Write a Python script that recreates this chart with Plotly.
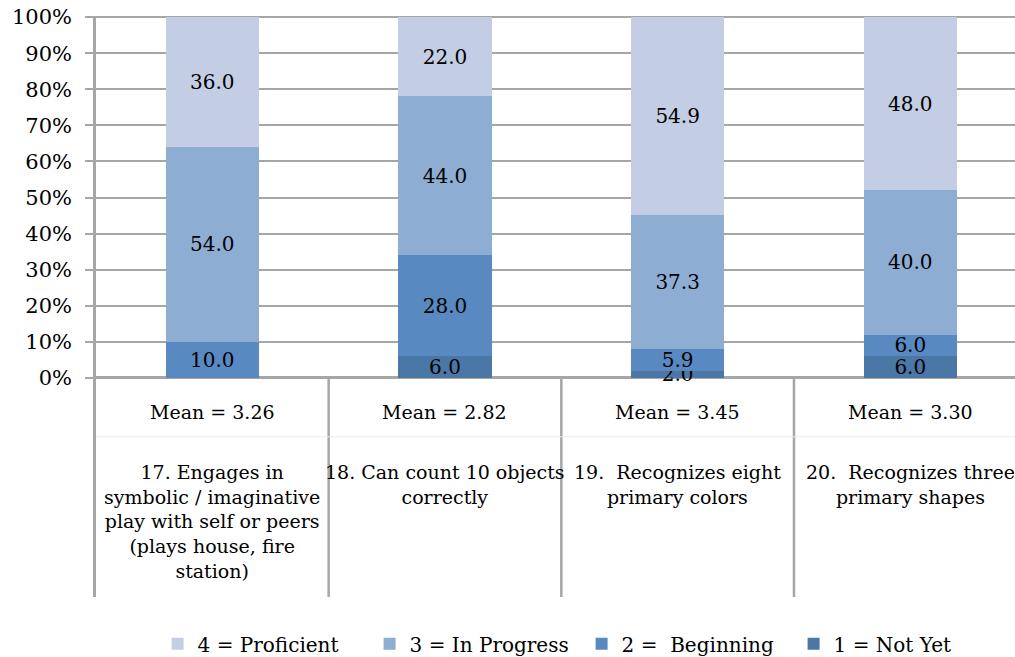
import plotly.graph_objects as go

# Survey items (x categories) and their mean scores
items = [
    "17. Engages in<br>symbolic / imaginative<br>play with self or peers<br>(plays house, fire<br>station)",
    "18. Can count 10 objects<br>correctly",
    "19. \u00a0Recognizes eight<br>primary colors",
    "20. \u00a0Recognizes three<br>primary shapes",
]
means = ["Mean = 3.26", "Mean = 2.82", "Mean = 3.45", "Mean = 3.30"]

# Percent of children at each rating level, per item
not_yet = [0.0, 6.0, 2.0, 6.0]
beginning = [10.0, 28.0, 5.9, 6.0]
in_progress = [54.0, 44.0, 37.3, 40.0]
proficient = [36.0, 22.0, 54.9, 48.0]

series = [
    ("1 = Not Yet", not_yet, "#4a77a6"),
    ("2 = \u00a0Beginning", beginning, "#5889c0"),
    ("3 = In Progress", in_progress, "#8eadd3"),
    ("4 = Proficient", proficient, "#c3cde3"),
]

y_ticks = [i / 10 for i in range(11)]

FONT = "DejaVu Serif"
GRID = "#a6a6a6"

x = list(range(len(items)))
fig = go.Figure()
for name, vals, color in series:
    fig.add_trace(go.Bar(
        x=x,
        y=[v / 100 for v in vals],
        name=name,
        marker=dict(color=color, line=dict(width=0)),
        width=0.4,
        text=[f"{v:.1f}" if v > 0 else "" for v in vals],
        textposition="inside",
        insidetextanchor="middle",
        constraintext="none",
        textfont=dict(family=FONT, size=20, color="#000000"),
        cliponaxis=False,
        hoverinfo="skip",
    ))

# Table-like area under the bars: mean row and item names
for i, (m, lab) in enumerate(zip(means, items)):
    fig.add_annotation(x=i, y=-0.094, xref="x", yref="y", text=m,
                       showarrow=False, font=dict(family=FONT, size=19, color="#000"),
                       xanchor="center", yanchor="middle")
    fig.add_annotation(x=i, y=-0.224, xref="x", yref="y", text=lab,
                       showarrow=False, font=dict(family=FONT, size=19, color="#000"),
                       xanchor="center", yanchor="top", align="center")

# Dividers between item columns
for b in [0.5, 1.5, 2.5]:
    fig.add_shape(type="line", xref="x", yref="y", x0=b, x1=b, y0=-0.607, y1=0,
                  line=dict(color=GRID, width=2.5), layer="below")
# Faint rule between mean row and item names
fig.add_shape(type="line", xref="x", yref="y", x0=-0.5, x1=3.5, y0=-0.163, y1=-0.163,
              line=dict(color="#ececec", width=1), layer="below")

fig.update_layout(
    width=1015, height=657,
    margin=dict(l=96, r=0, t=16, b=60),
    paper_bgcolor="white", plot_bgcolor="white",
    barmode="stack",
    bargap=0.6,
    showlegend=True,
    legend=dict(orientation="h", traceorder="reversed",
                x=0.573, xanchor="center", xref="container",
                y=0.02, yanchor="middle", yref="container",
                font=dict(family=FONT, size=20, color="#000"),
                entrywidth=167, entrywidthmode="pixels",
                itemclick=False, itemdoubleclick=False),
    xaxis=dict(range=[-0.5, 3.45], showticklabels=False, ticks="",
               showgrid=False, zeroline=False, showline=False, fixedrange=True),
    yaxis=dict(range=[-0.607, 1.003], tickvals=y_ticks, tickformat=".0%",
               showgrid=True, gridcolor=GRID, gridwidth=2,
               zeroline=True, zerolinecolor=GRID, zerolinewidth=2.5,
               showline=True, linecolor=GRID, linewidth=2.5,
               ticks="outside", ticklen=8, tickwidth=2, tickcolor=GRID,
               ticklabelstandoff=9,
               tickfont=dict(family=FONT, size=21, color="#000"),
               fixedrange=True),
    font=dict(family=FONT),
)

fig.write_html("out.html", config={"displayModeBar": False})
